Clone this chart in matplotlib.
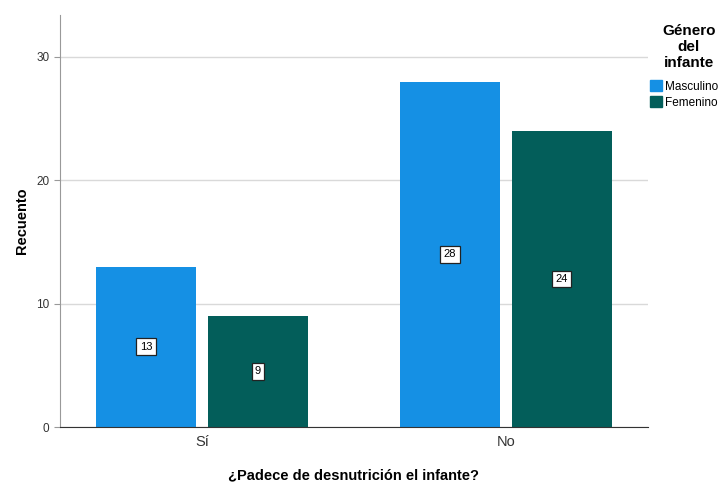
import matplotlib
matplotlib.use('Agg')
import matplotlib.pyplot as plt
from matplotlib.patches import Patch

# Recuento por grupo
categorias = ['Sí', 'No']
masculino = [13, 28]
femenino = [9, 24]
serie_nombres = ['Masculino', 'Femenino']
colores = ['#1590e4', '#035e5a']

plt.rcParams['font.family'] = ['Liberation Sans', 'DejaVu Sans']

fig = plt.figure(figsize=(7.26, 4.84), dpi=100)
ax = fig.add_axes([60 / 726, 1 - 427 / 484, 588 / 726, 412 / 484])

ancho = 0.329
desplaz = 0.184
pos = list(range(len(categorias)))

for valores, color, dx in [(masculino, colores[0], -desplaz), (femenino, colores[1], desplaz)]:
    xs = [p + dx for p in pos]
    ax.bar(xs, valores, width=ancho, color=color, zorder=2)
    for x, v in zip(xs, valores):
        ax.text(x, v / 2, str(v), ha='center', va='center', fontsize=8, zorder=3,
                bbox=dict(boxstyle='square,pad=0.3', fc='white', ec='#222222', lw=0.9))

ax.set_xlim(-0.467, 1.467)
ax.set_ylim(0, 33.4)
ax.set_yticks([0, 10, 20, 30])
ax.set_xticks(pos)
ax.set_xticklabels(categorias, fontsize=10.5, color='#333333')
ax.tick_params(axis='y', labelsize=8.5, colors='#333333', length=4, color='#999999')
ax.tick_params(axis='x', length=0, pad=6)
ax.grid(axis='y', color='#d9d9d9', lw=1, zorder=0)

for lado in ['top', 'right']:
    ax.spines[lado].set_visible(False)
ax.spines['left'].set_color('#999999')
ax.spines['bottom'].set_color('#333333')

ax.set_ylabel('Recuento', fontsize=10.5, fontweight='bold', labelpad=5)
ax.set_xlabel('¿Padece de desnutrición el infante?', fontsize=10.5, fontweight='bold', labelpad=14)

# título de la leyenda, centrado sobre las entradas
fig.text(689 / 726, 1 - 47 / 484, 'Género\ndel\ninfante', ha='center', va='center',
         fontsize=11, fontweight='bold', linespacing=1.15)

handles = [Patch(color=c, label=n) for c, n in zip(colores, serie_nombres)]
fig.legend(handles=handles, loc='upper left',
           bbox_to_anchor=(650 / 726, 1 - 80 / 484), frameon=False, fontsize=8.5,
           handlelength=1.05, handleheight=1.05, handletextpad=0.25, labelspacing=0.3,
           borderpad=0, borderaxespad=0)

fig.savefig('out.png', dpi=100)
